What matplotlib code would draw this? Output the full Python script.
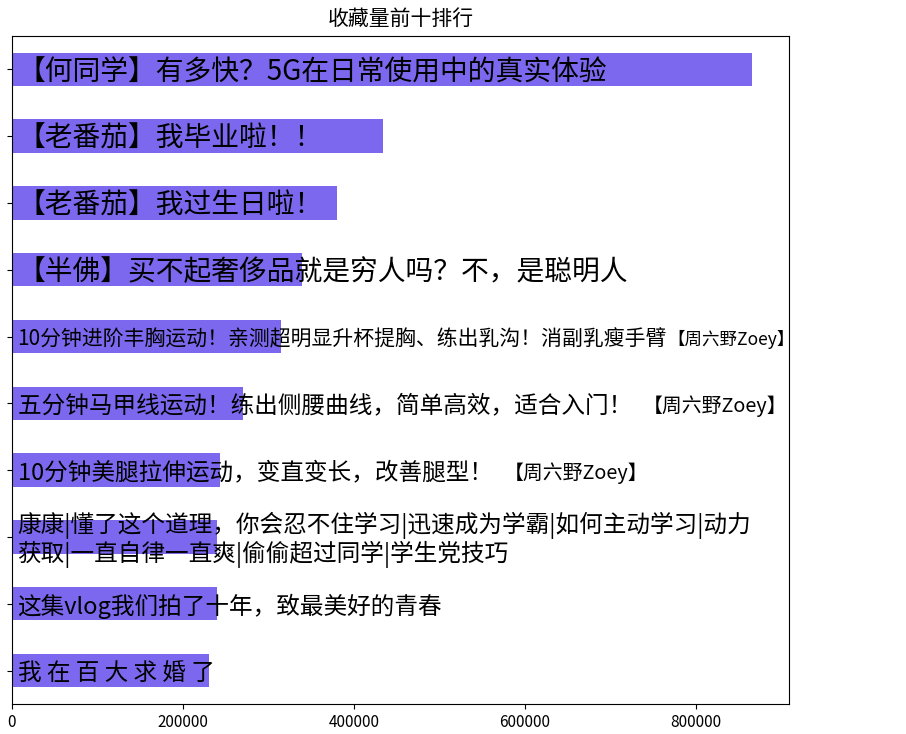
import matplotlib
matplotlib.use("Agg")
import matplotlib.pyplot as plt

plt.rcParams['font.family'] = ['Noto Sans CJK SC', 'DejaVu Sans']

titles = [
    "【何同学】有多快？5G在日常使用中的真实体验",
    "【老番茄】我毕业啦！！",
    "【老番茄】我过生日啦！",
    "【半佛】买不起奢侈品就是穷人吗？不，是聪明人",
    "10分钟进阶丰胸运动！亲测超明显升杯提胸、练出乳沟！消副乳瘦手臂【周六野Zoey】",
    "五分钟马甲线运动！练出侧腰曲线，简单高效，适合入门！ 【周六野Zoey】",
    "10分钟美腿拉伸运动，变直变长，改善腿型！ 【周六野Zoey】",
    "康康|懂了这个道理，你会忍不住学习|迅速成为学霸|如何主动学习|动力\n获取|一直自律一直爽|偷偷超过同学|学生党技巧",
    "这集vlog我们拍了十年，致最美好的青春",
    "我 在 百 大 求 婚 了",
]
favorites = [865500, 434300, 379800, 339200, 315200, 269900, 243300, 239500, 239500, 230800]
xticks = [0, 200000, 400000, 600000, 800000]
chart_title = "收藏量前十排行"

label_sizes = [20, 20, 20, 20, 15, 17, 17, 17, 17, 17]
tail = "【周六野Zoey】"

fig = plt.figure(figsize=(9.06, 7.34), dpi=100)
ax = fig.add_axes([0.0132, 0.0409, 0.8577, 0.9101])

pos = list(range(len(titles)))
ax.barh(pos, favorites, height=0.5, color='#7B68EE')
ax.set_ylim(len(titles) - 0.5, -0.5)
ax.set_xlim(0, max(favorites) * 1.05)
ax.set_yticks(pos)
ax.set_yticklabels([])
ax.set_xticks(xticks)
ax.set_xticklabels([str(v) for v in xticks], fontsize=11)
ax.set_title(chart_title, fontsize=15, pad=8)

for i, (t, s) in enumerate(zip(titles, label_sizes)):
    main = t
    rest = None
    if t.endswith(tail):
        main = t[:-len(tail)]
        rest = tail
    txt = ax.annotate(main, xy=(0, i), xytext=(4, -2), textcoords='offset points',
                      va='center', ha='left', fontsize=s, linespacing=1.08)
    if rest is not None:
        gap = 4 if main.endswith(' ') else 0
        ax.annotate(rest, xy=(1, 0.5), xycoords=txt, xytext=(gap, 0),
                    textcoords='offset points', va='center', ha='left',
                    fontsize=s * 0.84)

fig.savefig("out.png", dpi=100)
